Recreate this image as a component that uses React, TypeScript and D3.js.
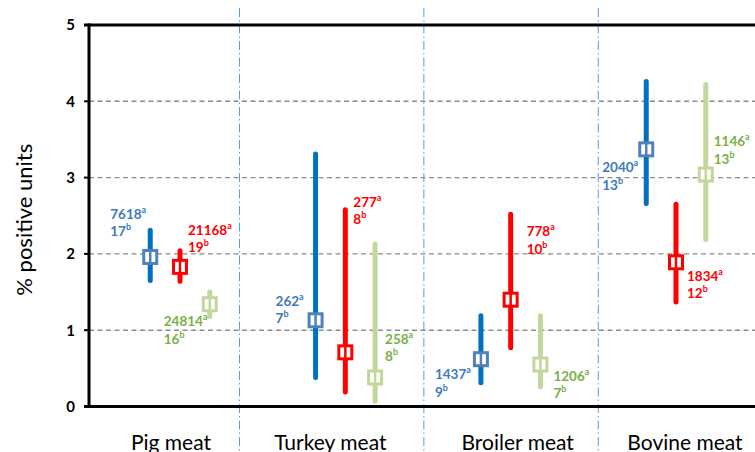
import React from "react";
import * as d3 from "d3";

const categories = ["Pig meat", "Turkey meat", "Broiler meat", "Bovine meat"];
const yTicks = [0, 1, 2, 3, 4, 5];

const blueEst = [1.96, 1.13, 0.62, 3.37];
const blueLow = [1.65, 0.38, 0.31, 2.66];
const blueHigh = [2.31, 3.31, 1.19, 4.26];
const blueN = [7618, 262, 1437, 2040];
const blueK = [17, 7, 9, 13];

const redEst = [1.83, 0.71, 1.4, 1.89];
const redLow = [1.64, 0.19, 0.77, 1.37];
const redHigh = [2.04, 2.58, 2.52, 2.65];
const redN = [21168, 277, 778, 1834];
const redK = [19, 8, 10, 12];

const greenEst = [1.34, 0.38, 0.55, 3.04];
const greenLow = [1.18, 0.07, 0.26, 2.19];
const greenHigh = [1.5, 2.13, 1.19, 4.22];
const greenN = [24814, 258, 1206, 1146];
const greenK = [16, 8, 7, 13];

// layout (not data)
const W = 755;
const H = 452;
const FONT = "Lato, 'Open Sans', 'Liberation Sans', sans-serif";
const separatorsIdx = [0.36, 1.475, 2.53];
const catLabelShift = [-9, -15, 7, 9];

const series = [
  { est: blueEst, low: blueLow, high: blueHigh, n: blueN, k: blueK, offset: -0.18, line: "#0070C0", marker: "#4F81BD", text: "#3B7BC0",
    lab: [[-40, 2.46], [-40, 1.32], [-46, 0.36], [-44, 3.07]] },
  { est: redEst, low: redLow, high: redHigh, n: redN, k: redK, offset: 0, line: "#FF0000", marker: "#FF0000", text: "#FF0000",
    lab: [[8, 2.25], [8, 2.62], [16, 2.23], [11, 1.65]] },
  { est: greenEst, low: greenLow, high: greenHigh, n: greenN, k: greenK, offset: 0.18, line: "#C3D69B", marker: "#C3D69B", text: "#77B043",
    lab: [[-46, 1.05], [10, 0.82], [13, 0.34], [8, 3.41]] },
];

export default function App() {
  const y = d3.scaleLinear().domain([0, 5]).range([406.5, 25]);
  const x = d3.scaleLinear().domain([0, 3]).range([180, 676]);
  const left = 89;
  const right = 770;

  return (
    <svg width={W} height={H} style={{ position: "absolute", left: 0, top: 0, background: "#fff" }} fontFamily={FONT}>
      <rect x={0} y={0} width={W} height={H} fill="#fff" />
      {/* gridlines */}
      {yTicks.filter((t) => t > 0 && t < 5).map((t) => (
        <line key={"g" + t} x1={left} x2={right} y1={y(t)} y2={y(t)} stroke="#8C8C8C" strokeWidth={1.4} strokeDasharray="5,3.5" />
      ))}
      {/* separators */}
      {separatorsIdx.map((s, i) => (
        <line key={"s" + i} x1={x(s)} x2={x(s)} y1={8} y2={H} stroke="#5B9BD5" strokeWidth={1} strokeDasharray="9,3,1.5,3" />
      ))}
      {/* frame */}
      <line x1={left} x2={left} y1={y(5) - 1.5} y2={y(0) + 1.5} stroke="#000" strokeWidth={3} />
      <line x1={left - 5} x2={right} y1={y(5)} y2={y(5)} stroke="#000" strokeWidth={3} />
      <line x1={left - 5} x2={right} y1={y(0)} y2={y(0)} stroke="#000" strokeWidth={3} />
      {yTicks.map((t) => (
        <g key={"t" + t}>
          <line x1={left - 5} x2={left} y1={y(t)} y2={y(t)} stroke="#000" strokeWidth={2} />
          <text x={left - 14} y={y(t)} dy="0.36em" textAnchor="end" fontWeight="bold" fontSize={15} fill="#000">
            {t}
          </text>
        </g>
      ))}
      {/* y title */}
      <text transform={`translate(32, ${(y(0) + y(5)) / 2 + 4}) rotate(-90)`} textAnchor="middle" fontSize={22} fill="#000">
        % positive units
      </text>
      {/* category labels */}
      {categories.map((c, i) => (
        <text key={c} x={x(i) + catLabelShift[i]} y={450} textAnchor="middle" fontSize={21} fill="#000">
          {c}
        </text>
      ))}
      {/* error bars and markers */}
      {series.map((s, si) =>
        categories.map((c, i) => {
          const cx = x(i + s.offset);
          const cy = y(s.est[i]);
          return (
            <g key={si + "-" + i}>
              <line x1={cx} x2={cx} y1={y(s.high[i])} y2={y(s.low[i])} stroke={s.line} strokeWidth={5} strokeLinecap="round" />
              <rect x={cx - 6.5} y={cy - 6.5} width={13} height={13} fill="#fff" stroke={s.marker} strokeWidth={3} />
              <line x1={cx} x2={cx} y1={cy - 6.5} y2={cy + 6.5} stroke={s.marker} strokeWidth={2.5} />
            </g>
          );
        })
      )}
      {/* labels */}
      {series.map((s, si) =>
        categories.map((c, i) => {
          const lx = x(i + s.offset) + s.lab[i][0];
          const ly = y(s.lab[i][1]);
          return (
            <g key={"l" + si + "-" + i} fill={s.text} fontWeight="bold" fontSize={13.5}>
              <text x={lx} y={ly}>
                {s.n[i]}
                <tspan fontSize={9} dy={-6}>a</tspan>
              </text>
              <text x={lx} y={ly + 17.5}>
                {s.k[i]}
                <tspan fontSize={9} dy={-6}>b</tspan>
              </text>
            </g>
          );
        })
      )}
    </svg>
  );
}
